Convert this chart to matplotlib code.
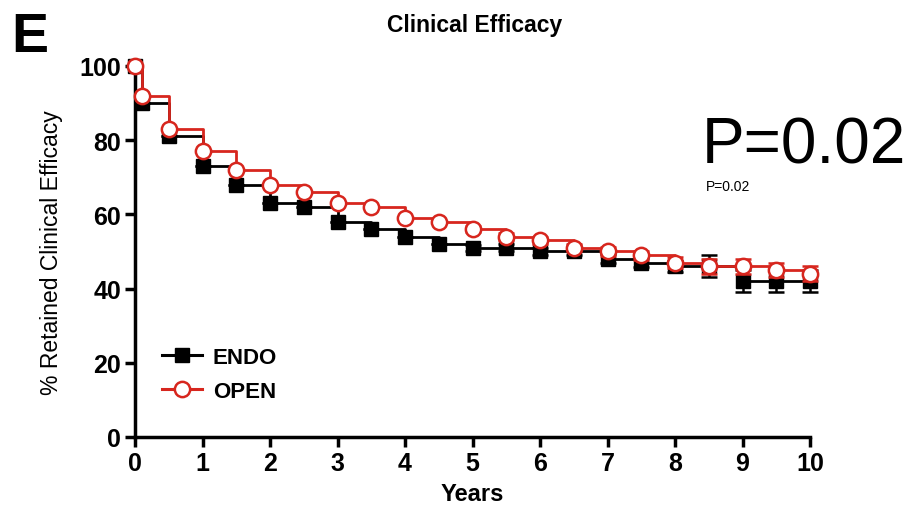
import matplotlib.pyplot as plt
import numpy as np

plt.rcParams['font.family'] = ['Liberation Sans', 'DejaVu Sans']

# Datos
years = [0, 0.1, 0.5, 1, 1.5, 2, 2.5, 3, 3.5, 4, 4.5, 5, 5.5, 6, 6.5, 7, 7.5, 8, 8.5, 9, 9.5, 10]
endo = [100, 90, 81, 73, 68, 63, 62, 58, 56, 54, 52, 51, 51, 50, 50, 48, 47, 46, 46, 42, 42, 42]
open_ = [100, 92, 83, 77, 72, 68, 66, 63, 62, 59, 58, 56, 54, 53, 51, 50, 49, 47, 46, 46, 45, 44]
endo_err = [0, 0, 0, 0, 0, 0, 0, 0, 0, 0, 0, 0.8, 1, 1, 1, 1.2, 1.2, 1.5, 3, 3, 3, 3]
open_err = [0, 0, 0, 0, 0, 0, 0, 0, 0, 0, 0, 0.8, 1, 1, 1, 1.2, 1.2, 1.5, 2, 2, 2, 2]

fig = plt.figure(figsize=(9.08, 5.06), dpi=100)
ax = fig.add_axes([0.1487, 0.1344, 0.7434, 0.7332])

red = '#d7261e'

# ENDO
ax.errorbar(years, endo, yerr=endo_err, fmt='none', ecolor='black', elinewidth=1.8,
            capsize=6, capthick=1.8, clip_on=False, zorder=2)
ax.plot(years, endo, drawstyle='steps-post', color='black', lw=2, zorder=2, clip_on=False)
ax.plot(years, endo, 's', color='black', ms=10, zorder=3, clip_on=False)

# OPEN
ax.errorbar(years, open_, yerr=open_err, fmt='none', ecolor=red, elinewidth=1.8,
            capsize=6, capthick=1.8, clip_on=False, zorder=4)
ax.plot(years, open_, drawstyle='steps-post', color=red, lw=2, zorder=4, clip_on=False)
ax.plot(years, open_, 'o', mfc='white', mec=red, mew=1.8, ms=11, zorder=5, clip_on=False)

# leyenda
h1, = ax.plot([], [], '-s', color='black', lw=2.2, ms=10)
h2, = ax.plot([], [], '-o', color=red, mfc='white', mec=red, mew=1.8, lw=2.2, ms=11)
leg = ax.legend([h1, h2], ['ENDO', 'OPEN'], loc='lower left', bbox_to_anchor=(0.01, 0.04),
                frameon=False, handlelength=1.8, handletextpad=0.5,
                prop={'weight': 'bold', 'size': 16}, labelspacing=0.6)

ax.set_xlim(0, 10)
ax.set_ylim(0, 100)
ax.set_xticks(range(0, 11))
ax.set_yticks([0, 20, 40, 60, 80, 100])
for s in ['top', 'right']:
    ax.spines[s].set_visible(False)
for s in ['left', 'bottom']:
    ax.spines[s].set_linewidth(2.5)
ax.tick_params(width=2.5, length=7, labelsize=18, pad=3)
for lab in ax.get_xticklabels() + ax.get_yticklabels():
    lab.set_fontweight('bold')

ax.set_xlabel('Years', fontsize=17, fontweight='bold', labelpad=5)
ax.set_ylabel('% Retained Clinical Efficacy', fontsize=16.5, labelpad=12)

fig.text(0.523, 0.95, 'Clinical Efficacy', fontsize=16.5, fontweight='bold', ha='center', va='center')
fig.text(0.012, 0.925, 'E', fontsize=40, fontweight='bold', ha='left', va='center')
fig.text(0.773, 0.71, 'P=0.02', fontsize=46, ha='left', va='center')
fig.text(0.777, 0.63, 'P=0.02', fontsize=10, ha='left', va='center')

plt.savefig('out.png', dpi=100)
